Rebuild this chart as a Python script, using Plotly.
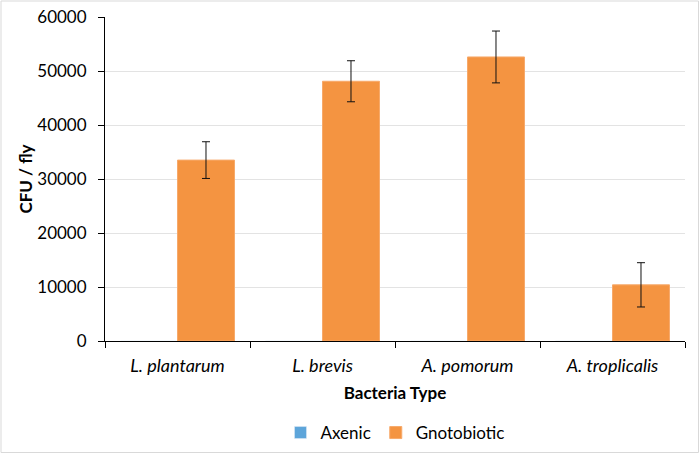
import plotly.graph_objects as go

categories = ["L. plantarum", "L. brevis", "A. pomorum", "A. troplicalis"]
axenic = [0, 0, 0, 0]
gnotobiotic = [33500, 48100, 52600, 10400]
gnoto_err = [3400, 3800, 4800, 4100]
y_ticks = [0, 10000, 20000, 30000, 40000, 50000, 60000]

cat_labels = ["<i>%s</i>" % c for c in categories]

fig = go.Figure()
fig.add_trace(go.Bar(
    name="Axenic", x=cat_labels, y=axenic,
    marker=dict(color="#5DA5DA"),
))
fig.add_trace(go.Bar(
    name="Gnotobiotic", x=cat_labels, y=gnotobiotic,
    marker=dict(color="#F49441", line=dict(color="#F7A96A", width=1)),
    error_y=dict(type="data", array=gnoto_err, visible=True,
                 color="#111111", thickness=1, width=4),
))

L, R, T, B = 105, 15, 17, 114
W, H = 700, 455
pw, ph = W - L - R, H - T - B

def px_x(px):
    return (px - L) / pw

def px_y(py):
    return (H - B - py) / ph

fig.update_layout(
    width=W, height=H,
    margin=dict(l=L, r=R, t=T, b=B, autoexpand=False),
    paper_bgcolor="white", plot_bgcolor="white",
    barmode="group", bargap=0.214, bargroupgap=0,
    font=dict(family="Lato, Open Sans, sans-serif", size=17, color="#000000"),
    legend=dict(orientation="h", x=0.5, xanchor="center", y=px_y(433), yanchor="middle",
                font=dict(size=17), itemwidth=30, traceorder="normal"),
    xaxis=dict(
        title=dict(text="<b>Bacteria Type</b>", font=dict(size=17), standoff=12),
        showline=True, linecolor="#000000", linewidth=1,
        ticks="outside", tickson="boundaries", ticklen=6, tickcolor="#000000",
        tickfont=dict(size=18), automargin=False, ticklabelstandoff=8,
    ),
    yaxis=dict(
        title=dict(text="<b>CFU / fly</b>", font=dict(size=17), standoff=0),
        range=[0, 60000], tickvals=y_ticks, ticktext=[str(v) for v in y_ticks],
        showline=True, linecolor="#000000", linewidth=1,
        ticks="outside", ticklen=6, tickcolor="#000000",
        showgrid=True, gridcolor="#E3E3E3", gridwidth=1,
        zeroline=False, tickfont=dict(size=17), automargin=False,
        ticklabelstandoff=8,
    ),
    shapes=[dict(type="rect", xref="paper", yref="paper",
                 x0=px_x(1), x1=px_x(698.5), y0=px_y(452.5), y1=px_y(1),
                 line=dict(color="#D9D9D9", width=1), layer="below")],
)

fig.write_html("out.html", post_script="document.body.style.margin='0';",
               config={"displayModeBar": False})
